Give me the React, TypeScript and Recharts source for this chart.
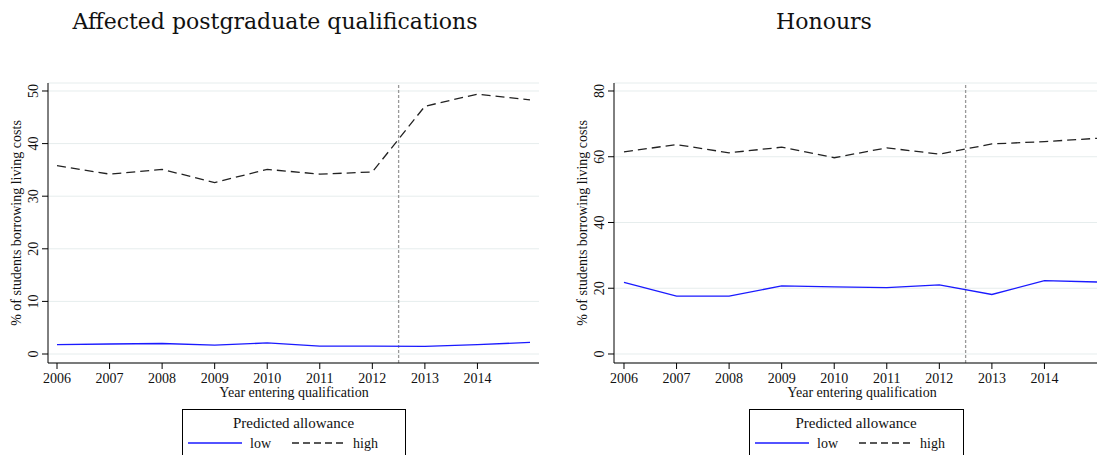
import React from 'react';
import { LineChart, Line, XAxis, YAxis, CartesianGrid, ReferenceLine } from 'recharts';

const years = [2006, 2007, 2008, 2009, 2010, 2011, 2012, 2013, 2014, 2015];
const yearTicks = [2006, 2007, 2008, 2009, 2010, 2011, 2012, 2013, 2014];

const pgLow = [1.8, 1.9, 2.0, 1.7, 2.1, 1.5, 1.5, 1.45, 1.8, 2.2];
const pgHigh = [35.8, 34.2, 35.1, 32.6, 35.1, 34.2, 34.6, 47.1, 49.4, 48.3];
const pgTicks = [0, 10, 20, 30, 40, 50];

const honLow = [21.8, 17.6, 17.6, 20.7, 20.4, 20.2, 21.0, 18.1, 22.3, 21.9];
const honHigh = [61.5, 63.7, 61.2, 62.9, 59.7, 62.7, 60.8, 63.9, 64.6, 65.6];
const honTicks = [0, 20, 40, 60, 80];

const reformYear = 2012.5;

const serif = '"Liberation Serif", "Times New Roman", serif';

const pgData = years.map((year, i) => ({ year, low: pgLow[i], high: pgHigh[i] }));
const honData = years.map((year, i) => ({ year, low: honLow[i], high: honHigh[i] }));

// Stata-style vertical y tick labels
const RotatedTick = (props: any) => {
  const { x, y, payload } = props;
  const bx = x - 2;
  return (
    <text
      x={bx}
      y={y}
      transform={`rotate(-90, ${bx}, ${y})`}
      textAnchor="middle"
      fontFamily={serif}
      fontSize={14}
      fill="#111"
    >
      {payload.value}
    </text>
  );
};

interface PanelProps {
  data: { year: number; low: number; high: number }[];
  yDomain: [number, number];
  yTicks: number[];
  xDomain: [number, number];
  left: number;
  rightMargin: number;
}

const Panel: React.FC<PanelProps> = ({ data, yDomain, yTicks, xDomain, left, rightMargin }) => (
  <div style={{ position: 'absolute', left, top: 0 }}>
    <LineChart
      width={560}
      height={455}
      data={data}
      margin={{ top: 83, right: rightMargin, bottom: 62, left: 8 }}
    >
      <CartesianGrid vertical={false} stroke="#e6eded" strokeWidth={1} />
      <XAxis
        dataKey="year"
        type="number"
        domain={xDomain}
        ticks={yearTicks}
        allowDataOverflow
        height={30}
        tickSize={6}
        tickMargin={4}
        stroke="#000"
        tick={{ fontFamily: serif, fontSize: 14, fill: '#111' }}
        interval={0}
      />
      <YAxis
        type="number"
        domain={yDomain}
        ticks={yTicks}
        allowDataOverflow
        width={40}
        tickSize={6}
        tickMargin={2}
        stroke="#000"
        tick={<RotatedTick />}
        interval={0}
      />
      <ReferenceLine x={reformYear} stroke="#999" strokeWidth={1.3} strokeDasharray="3 2" />
      <Line
        type="linear"
        dataKey="low"
        stroke="#1a1aff"
        strokeWidth={1.3}
        dot={false}
        isAnimationActive={false}
      />
      <Line
        type="linear"
        dataKey="high"
        stroke="#222"
        strokeWidth={1.3}
        strokeDasharray="9 5"
        dot={false}
        isAnimationActive={false}
      />
    </LineChart>
  </div>
);

const Legend: React.FC<{ x: number; w: number }> = ({ x, w }) => (
  <g>
    <rect x={x + 0.5} y={409.5} width={w} height={60} fill="#fff" stroke="#000" strokeWidth={1} />
    <text x={x + w / 2} y={428} textAnchor="middle" fontFamily={serif} fontSize={15} fill="#111">
      Predicted allowance
    </text>
    <line x1={x + 6} x2={x + 60} y1={443} y2={443} stroke="#1a1aff" strokeWidth={1.3} />
    <text x={x + 68} y={448} fontFamily={serif} fontSize={14} fill="#111">low</text>
    <line x1={x + 110} x2={x + 162} y1={443} y2={443} stroke="#222" strokeWidth={1.3} strokeDasharray="7 4" />
    <text x={x + 171} y={448} fontFamily={serif} fontSize={14} fill="#111">high</text>
  </g>
);

export default function App() {
  return (
    <div
      style={{
        position: 'fixed',
        left: 0,
        top: 0,
        width: 1097,
        height: 455,
        overflow: 'hidden',
        background: '#fff',
      }}
    >
      <Panel
        data={pgData}
        yDomain={[-1.71, 51.52]}
        yTicks={pgTicks}
        xDomain={[2006 - 9 / 52.5, 2015 + 9 / 52.5]}
        left={0}
        rightMargin={21}
      />
      <Panel
        data={honData}
        yDomain={[-2.74, 82.43]}
        yTicks={honTicks}
        xDomain={[2006 - 10 / 52.6, 2015 + 10 / 52.6]}
        left={566}
        rightMargin={19}
      />
      <svg
        width={1097}
        height={455}
        style={{ position: 'absolute', left: 0, top: 0, pointerEvents: 'none' }}
      >
        <text x={275} y={29} textAnchor="middle" fontFamily='"DejaVu Serif", serif' fontSize={22} fill="#111">
          Affected postgraduate qualifications
        </text>
        <text x={824} y={29} textAnchor="middle" fontFamily='"DejaVu Serif", serif' fontSize={22} fill="#111">
          Honours
        </text>
        <text x={294} y={397} textAnchor="middle" fontFamily={serif} fontSize={14} fill="#111">
          Year entering qualification
        </text>
        <text x={862} y={397} textAnchor="middle" fontFamily={serif} fontSize={14} fill="#111">
          Year entering qualification
        </text>
        <text
          x={21}
          y={223}
          transform="rotate(-90, 21, 223)"
          textAnchor="middle"
          fontFamily={serif}
          fontSize={14}
          fill="#111"
        >
          % of students borrowing living costs
        </text>
        <text
          x={587}
          y={223}
          transform="rotate(-90, 587, 223)"
          textAnchor="middle"
          fontFamily={serif}
          fontSize={14}
          fill="#111"
        >
          % of students borrowing living costs
        </text>
        <Legend x={182} w={223} />
        <Legend x={749} w={214} />
      </svg>
    </div>
  );
}
